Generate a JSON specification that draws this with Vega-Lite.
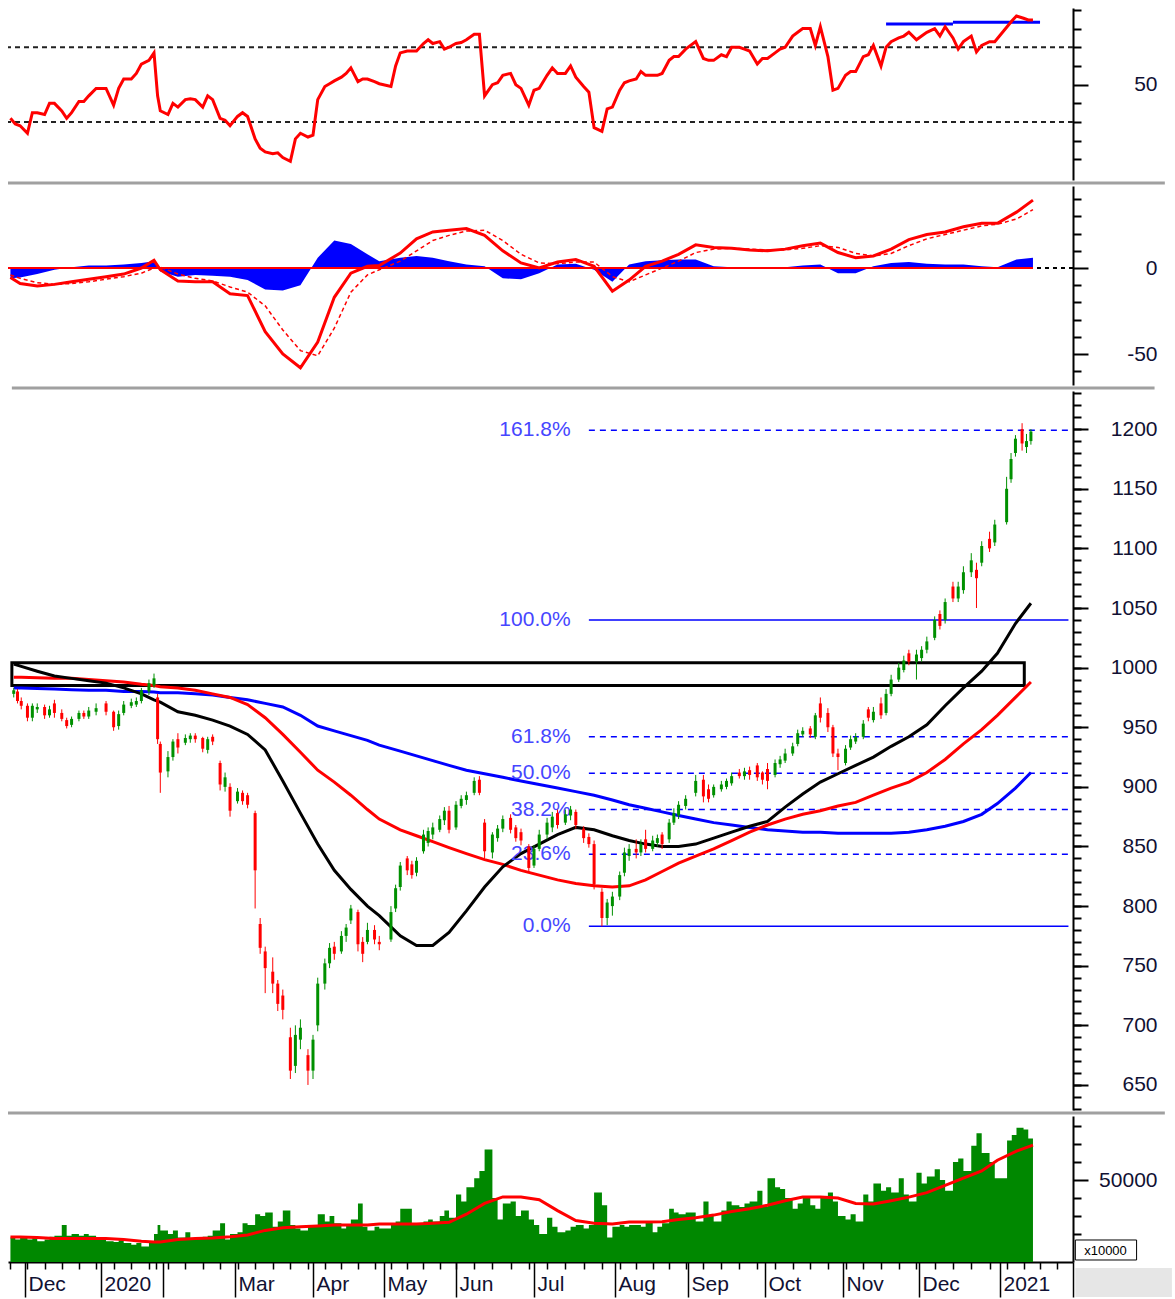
{
"$schema":"https://vega.github.io/schema/vega-lite/v6.json",
"background":"white",
"padding":{"left":4,"top":8,"right":0,"bottom":0},
"autosize":{"type":"pad"},
"bounds":"flush",
"spacing":6,
"config":{"view":{"stroke":null},"axis":{"grid":false,"labelFont":"Liberation Sans","labelFontSize":21,"labelColor":"#111133","tickColor":"#000000","domainColor":"#000000","tickWidth":2,"domainWidth":2,"titleFont":"Liberation Sans"}},
"datasets":{
"p":[
{"d":"2019-11-25","o":978,"h":983,"l":975,"c":981,"v":18000,"r":32},
{"d":"2019-11-27","o":980,"h":982,"l":970,"c":972,"v":17000,"r":29},
{"d":"2019-11-29","o":972,"h":975,"l":965,"c":968,"v":18500,"r":28},
{"d":"2019-12-02","o":968,"h":970,"l":955,"c":958,"v":17000,"r":24},
{"d":"2019-12-04","o":958,"h":970,"l":955,"c":968,"v":18000,"r":35},
{"d":"2019-12-06","o":965,"h":970,"l":962,"c":967,"v":16000,"r":35},
{"d":"2019-12-09","o":967,"h":969,"l":957,"c":960,"v":17000,"r":34},
{"d":"2019-12-11","o":960,"h":968,"l":958,"c":965,"v":18500,"r":40},
{"d":"2019-12-13","o":970,"h":973,"l":958,"c":962,"v":19000,"r":40},
{"d":"2019-12-16","o":962,"h":965,"l":955,"c":957,"v":25000,"r":36},
{"d":"2019-12-18","o":956,"h":958,"l":949,"c":951,"v":19000,"r":32},
{"d":"2019-12-20","o":952,"h":959,"l":950,"c":957,"v":20000,"r":35},
{"d":"2019-12-23","o":957,"h":964,"l":955,"c":962,"v":19000,"r":41},
{"d":"2019-12-25","o":962,"h":964,"l":957,"c":959,"v":20000,"r":41},
{"d":"2019-12-27","o":959,"h":967,"l":957,"c":964,"v":19000,"r":44},
{"d":"2019-12-30","o":963,"h":970,"l":960,"c":966,"v":17000,"r":48},
{"d":"2020-01-03","o":970,"h":972,"l":960,"c":963,"v":16000,"r":48},
{"d":"2020-01-06","o":963,"h":964,"l":947,"c":950,"v":15500,"r":39},
{"d":"2020-01-08","o":951,"h":964,"l":948,"c":961,"v":16500,"r":48},
{"d":"2020-01-10","o":962,"h":972,"l":960,"c":969,"v":15000,"r":53},
{"d":"2020-01-13","o":968,"h":974,"l":966,"c":971,"v":14000,"r":53},
{"d":"2020-01-15","o":969,"h":975,"l":967,"c":972,"v":15000,"r":56},
{"d":"2020-01-17","o":972,"h":983,"l":970,"c":981,"v":13000,"r":61},
{"d":"2020-01-20","o":980,"h":990,"l":977,"c":987,"v":15000,"r":63},
{"d":"2020-01-22","o":985,"h":995,"l":983,"c":991,"v":20000,"r":67},
{"d":"2020-01-30","o":975,"h":978,"l":936,"c":940,"v":25000,"r":44},
{"d":"2020-01-31","o":936,"h":938,"l":895,"c":912,"v":22000,"r":36},
{"d":"2020-02-03","o":913,"h":930,"l":908,"c":925,"v":20000,"r":34},
{"d":"2020-02-05","o":925,"h":940,"l":922,"c":938,"v":22000,"r":40},
{"d":"2020-02-07","o":940,"h":945,"l":928,"c":933,"v":18000,"r":38},
{"d":"2020-02-10","o":937,"h":944,"l":935,"c":941,"v":21000,"r":42},
{"d":"2020-02-12","o":940,"h":945,"l":937,"c":943,"v":17500,"r":42.5},
{"d":"2020-02-14","o":943,"h":945,"l":937,"c":940,"v":18000,"r":42},
{"d":"2020-02-17","o":941,"h":942,"l":929,"c":932,"v":18500,"r":38},
{"d":"2020-02-19","o":931,"h":942,"l":928,"c":940,"v":19000,"r":44},
{"d":"2020-02-21","o":942,"h":944,"l":935,"c":938,"v":22000,"r":42},
{"d":"2020-02-24","o":920,"h":922,"l":897,"c":902,"v":26000,"r":32},
{"d":"2020-02-26","o":900,"h":912,"l":896,"c":908,"v":17000,"r":31},
{"d":"2020-02-28","o":900,"h":903,"l":875,"c":880,"v":20000,"r":28},
{"d":"2020-03-02","o":888,"h":899,"l":886,"c":896,"v":21000,"r":33},
{"d":"2020-03-04","o":895,"h":897,"l":885,"c":888,"v":26000,"r":35},
{"d":"2020-03-06","o":893,"h":895,"l":882,"c":885,"v":25000,"r":33},
{"d":"2020-03-09","o":878,"h":880,"l":798,"c":830,"v":31000,"r":21},
{"d":"2020-03-11","o":785,"h":790,"l":760,"c":765,"v":30000,"r":16},
{"d":"2020-03-13","o":762,"h":766,"l":727,"c":748,"v":32000,"r":14},
{"d":"2020-03-16","o":745,"h":757,"l":727,"c":735,"v":24000,"r":13},
{"d":"2020-03-18","o":735,"h":738,"l":712,"c":718,"v":27000,"r":13.5},
{"d":"2020-03-20","o":725,"h":730,"l":705,"c":713,"v":33000,"r":11},
{"d":"2020-03-23","o":690,"h":698,"l":655,"c":662,"v":25000,"r":9},
{"d":"2020-03-25","o":666,"h":700,"l":660,"c":692,"v":23000,"r":21},
{"d":"2020-03-27","o":688,"h":705,"l":680,"c":698,"v":22000,"r":24},
{"d":"2020-03-30","o":675,"h":680,"l":650,"c":662,"v":25000,"r":22},
{"d":"2020-04-01","o":662,"h":692,"l":655,"c":688,"v":24000,"r":23},
{"d":"2020-04-03","o":700,"h":740,"l":695,"c":735,"v":31000,"r":42},
{"d":"2020-04-06","o":735,"h":756,"l":730,"c":752,"v":27000,"r":49},
{"d":"2020-04-08","o":752,"h":769,"l":748,"c":765,"v":30000,"r":50.5},
{"d":"2020-04-10","o":766,"h":770,"l":755,"c":760,"v":26000,"r":52},
{"d":"2020-04-13","o":762,"h":779,"l":760,"c":775,"v":23000,"r":54},
{"d":"2020-04-15","o":775,"h":785,"l":770,"c":782,"v":25000,"r":56},
{"d":"2020-04-17","o":788,"h":801,"l":785,"c":798,"v":28000,"r":59},
{"d":"2020-04-20","o":795,"h":797,"l":762,"c":768,"v":37000,"r":51.6},
{"d":"2020-04-22","o":770,"h":774,"l":753,"c":760,"v":24000,"r":53},
{"d":"2020-04-24","o":770,"h":786,"l":768,"c":780,"v":22000,"r":53},
{"d":"2020-04-27","o":780,"h":784,"l":768,"c":772,"v":24000,"r":51.6},
{"d":"2020-04-29","o":770,"h":775,"l":763,"c":768,"v":23000,"r":50.5},
{"d":"2020-05-04","o":772,"h":800,"l":770,"c":795,"v":25000,"r":49},
{"d":"2020-05-06","o":798,"h":818,"l":795,"c":815,"v":27000,"r":60},
{"d":"2020-05-08","o":816,"h":837,"l":813,"c":834,"v":34000,"r":67},
{"d":"2020-05-11","o":840,"h":842,"l":826,"c":830,"v":34000,"r":68},
{"d":"2020-05-13","o":835,"h":838,"l":823,"c":826,"v":26000,"r":68},
{"d":"2020-05-15","o":828,"h":841,"l":825,"c":838,"v":25000,"r":68},
{"d":"2020-05-18","o":846,"h":864,"l":844,"c":860,"v":27000,"r":72},
{"d":"2020-05-20","o":853,"h":866,"l":850,"c":863,"v":28000,"r":74},
{"d":"2020-05-22","o":860,"h":870,"l":856,"c":866,"v":27000,"r":72},
{"d":"2020-05-25","o":864,"h":876,"l":862,"c":873,"v":30000,"r":73},
{"d":"2020-05-27","o":872,"h":883,"l":868,"c":880,"v":33000,"r":69},
{"d":"2020-05-29","o":880,"h":884,"l":861,"c":864,"v":29000,"r":70},
{"d":"2020-06-01","o":866,"h":888,"l":864,"c":885,"v":42000,"r":72},
{"d":"2020-06-03","o":884,"h":893,"l":882,"c":890,"v":38000,"r":72.5},
{"d":"2020-06-05","o":889,"h":896,"l":885,"c":893,"v":46000,"r":74},
{"d":"2020-06-08","o":895,"h":908,"l":893,"c":905,"v":51000,"r":77},
{"d":"2020-06-10","o":906,"h":909,"l":893,"c":895,"v":55000,"r":77},
{"d":"2020-06-12","o":870,"h":873,"l":840,"c":846,"v":67000,"r":44},
{"d":"2020-06-15","o":845,"h":862,"l":840,"c":860,"v":40000,"r":50},
{"d":"2020-06-17","o":857,"h":868,"l":854,"c":865,"v":28000,"r":51},
{"d":"2020-06-19","o":865,"h":876,"l":862,"c":873,"v":37000,"r":55},
{"d":"2020-06-22","o":874,"h":877,"l":861,"c":864,"v":38000,"r":56},
{"d":"2020-06-24","o":866,"h":868,"l":854,"c":857,"v":30000,"r":50},
{"d":"2020-06-26","o":862,"h":865,"l":851,"c":855,"v":33000,"r":48},
{"d":"2020-06-29","o":850,"h":852,"l":828,"c":832,"v":28000,"r":39},
{"d":"2020-07-01","o":834,"h":851,"l":832,"c":848,"v":25000,"r":47},
{"d":"2020-07-03","o":848,"h":864,"l":846,"c":860,"v":20000,"r":48},
{"d":"2020-07-06","o":860,"h":874,"l":856,"c":870,"v":29000,"r":55},
{"d":"2020-07-08","o":866,"h":879,"l":862,"c":875,"v":24000,"r":59},
{"d":"2020-07-10","o":878,"h":881,"l":865,"c":868,"v":21000,"r":56},
{"d":"2020-07-13","o":870,"h":881,"l":868,"c":877,"v":22000,"r":56},
{"d":"2020-07-15","o":876,"h":884,"l":872,"c":881,"v":24000,"r":60},
{"d":"2020-07-17","o":879,"h":881,"l":865,"c":868,"v":25000,"r":54},
{"d":"2020-07-20","o":865,"h":867,"l":853,"c":857,"v":23000,"r":49},
{"d":"2020-07-22","o":858,"h":861,"l":849,"c":852,"v":25000,"r":46},
{"d":"2020-07-24","o":852,"h":855,"l":814,"c":818,"v":43000,"r":27},
{"d":"2020-07-27","o":812,"h":815,"l":783,"c":790,"v":36000,"r":25},
{"d":"2020-07-29","o":790,"h":806,"l":784,"c":803,"v":18000,"r":37},
{"d":"2020-07-31","o":800,"h":812,"l":792,"c":808,"v":24000,"r":38},
{"d":"2020-08-03","o":808,"h":829,"l":805,"c":826,"v":25000,"r":47},
{"d":"2020-08-05","o":828,"h":849,"l":825,"c":845,"v":24000,"r":51},
{"d":"2020-08-07","o":842,"h":852,"l":838,"c":848,"v":25000,"r":52},
{"d":"2020-08-10","o":848,"h":856,"l":840,"c":845,"v":25000,"r":53},
{"d":"2020-08-12","o":845,"h":856,"l":842,"c":852,"v":24000,"r":57},
{"d":"2020-08-14","o":856,"h":864,"l":845,"c":848,"v":27000,"r":55},
{"d":"2020-08-17","o":848,"h":859,"l":846,"c":855,"v":21000,"r":55},
{"d":"2020-08-19","o":853,"h":860,"l":850,"c":857,"v":24000,"r":55},
{"d":"2020-08-21","o":860,"h":862,"l":848,"c":852,"v":26000,"r":56},
{"d":"2020-08-24","o":856,"h":873,"l":853,"c":870,"v":34000,"r":63},
{"d":"2020-08-26","o":870,"h":882,"l":868,"c":878,"v":32000,"r":65},
{"d":"2020-08-28","o":876,"h":888,"l":873,"c":885,"v":31000,"r":65},
{"d":"2020-08-31","o":884,"h":893,"l":881,"c":890,"v":32000,"r":69},
{"d":"2020-09-04","o":895,"h":910,"l":892,"c":905,"v":27000,"r":73},
{"d":"2020-09-07","o":906,"h":910,"l":887,"c":892,"v":38000,"r":64},
{"d":"2020-09-09","o":898,"h":902,"l":887,"c":890,"v":30000,"r":63},
{"d":"2020-09-11","o":893,"h":902,"l":891,"c":900,"v":27000,"r":63},
{"d":"2020-09-14","o":898,"h":905,"l":896,"c":902,"v":33000,"r":66},
{"d":"2020-09-16","o":900,"h":907,"l":898,"c":905,"v":38000,"r":65},
{"d":"2020-09-18","o":903,"h":912,"l":901,"c":909,"v":36000,"r":70},
{"d":"2020-09-21","o":912,"h":915,"l":907,"c":909,"v":35000,"r":70},
{"d":"2020-09-23","o":909,"h":916,"l":906,"c":913,"v":37000,"r":69},
{"d":"2020-09-25","o":914,"h":917,"l":906,"c":910,"v":38000,"r":68},
{"d":"2020-09-28","o":918,"h":920,"l":905,"c":908,"v":44000,"r":61},
{"d":"2020-09-30","o":912,"h":913,"l":902,"c":906,"v":35000,"r":64},
{"d":"2020-10-02","o":915,"h":920,"l":898,"c":905,"v":51000,"r":64},
{"d":"2020-10-05","o":910,"h":923,"l":908,"c":920,"v":46000,"r":67},
{"d":"2020-10-07","o":919,"h":926,"l":916,"c":923,"v":45000,"r":69},
{"d":"2020-10-09","o":922,"h":932,"l":920,"c":928,"v":40000,"r":70},
{"d":"2020-10-12","o":928,"h":937,"l":926,"c":934,"v":34000,"r":76},
{"d":"2020-10-14","o":936,"h":948,"l":934,"c":945,"v":37000,"r":78},
{"d":"2020-10-16","o":944,"h":950,"l":942,"c":947,"v":40000,"r":80},
{"d":"2020-10-19","o":949,"h":951,"l":941,"c":944,"v":36000,"r":80},
{"d":"2020-10-21","o":942,"h":962,"l":940,"c":960,"v":34000,"r":71},
{"d":"2020-10-23","o":970,"h":975,"l":954,"c":958,"v":40000,"r":81},
{"d":"2020-10-26","o":962,"h":966,"l":946,"c":950,"v":43000,"r":65},
{"d":"2020-10-28","o":950,"h":952,"l":925,"c":928,"v":38000,"r":47},
{"d":"2020-10-30","o":928,"h":932,"l":914,"c":925,"v":30000,"r":48},
{"d":"2020-11-02","o":920,"h":935,"l":918,"c":932,"v":28000,"r":55},
{"d":"2020-11-04","o":933,"h":943,"l":931,"c":940,"v":31000,"r":57},
{"d":"2020-11-06","o":938,"h":945,"l":936,"c":942,"v":27000,"r":57},
{"d":"2020-11-09","o":942,"h":956,"l":940,"c":953,"v":42000,"r":65},
{"d":"2020-11-11","o":965,"h":967,"l":955,"c":958,"v":38000,"r":66},
{"d":"2020-11-13","o":956,"h":967,"l":954,"c":963,"v":48000,"r":71},
{"d":"2020-11-16","o":970,"h":975,"l":957,"c":960,"v":44000,"r":60},
{"d":"2020-11-18","o":962,"h":982,"l":960,"c":978,"v":46000,"r":70},
{"d":"2020-11-20","o":978,"h":994,"l":976,"c":990,"v":43000,"r":73},
{"d":"2020-11-23","o":990,"h":1004,"l":988,"c":1000,"v":51000,"r":75},
{"d":"2020-11-25","o":998,"h":1010,"l":996,"c":1006,"v":42000,"r":76},
{"d":"2020-11-27","o":1012,"h":1015,"l":1002,"c":1005,"v":38000,"r":78},
{"d":"2020-11-30","o":1005,"h":1015,"l":990,"c":1011,"v":54000,"r":74},
{"d":"2020-12-02","o":1008,"h":1018,"l":1005,"c":1015,"v":48000,"r":76},
{"d":"2020-12-04","o":1015,"h":1026,"l":1012,"c":1022,"v":52000,"r":78},
{"d":"2020-12-07","o":1025,"h":1043,"l":1023,"c":1040,"v":56000,"r":80},
{"d":"2020-12-09","o":1045,"h":1048,"l":1032,"c":1035,"v":50000,"r":76},
{"d":"2020-12-11","o":1040,"h":1058,"l":1037,"c":1055,"v":44000,"r":81},
{"d":"2020-12-14","o":1068,"h":1072,"l":1055,"c":1058,"v":60000,"r":75},
{"d":"2020-12-16","o":1058,"h":1072,"l":1055,"c":1068,"v":62000,"r":69},
{"d":"2020-12-18","o":1065,"h":1085,"l":1062,"c":1080,"v":55000,"r":73},
{"d":"2020-12-21","o":1080,"h":1096,"l":1076,"c":1090,"v":69000,"r":76},
{"d":"2020-12-23","o":1082,"h":1088,"l":1050,"c":1075,"v":76000,"r":67.5},
{"d":"2020-12-25","o":1088,"h":1106,"l":1085,"c":1102,"v":65000,"r":71},
{"d":"2020-12-28","o":1108,"h":1114,"l":1097,"c":1100,"v":60000,"r":73},
{"d":"2020-12-30","o":1105,"h":1124,"l":1102,"c":1120,"v":51000,"r":73},
{"d":"2021-01-04","o":1122,"h":1160,"l":1120,"c":1150,"v":72000,"r":81},
{"d":"2021-01-06","o":1158,"h":1180,"l":1155,"c":1175,"v":75000,"r":84},
{"d":"2021-01-08","o":1180,"h":1195,"l":1177,"c":1192,"v":79000,"r":86.7},
{"d":"2021-01-11","o":1200,"h":1205,"l":1182,"c":1188,"v":78000,"r":85.5},
{"d":"2021-01-13","o":1185,"h":1196,"l":1180,"c":1190,"v":73000,"r":84.6},
{"d":"2021-01-15","o":1190,"h":1200,"l":1187,"c":1198,"v":73000,"r":84.6}
],
"w":[
{"d":"2019-11-25","k":1003,"r2":992,"b":983,"mc":-5.5,"sg":-4,"hs":-6,"vm":18300},
{"d":"2019-11-29","k":1001,"r2":992,"b":983,"mc":-9,"sg":-6,"hs":-5.5,"vm":18300},
{"d":"2019-12-06","k":997,"r2":991.5,"b":982.5,"mc":-10.5,"sg":-8.5,"hs":-3.5,"vm":18000},
{"d":"2019-12-13","k":993,"r2":991,"b":982,"mc":-9.5,"sg":-9.5,"hs":-1,"vm":17500},
{"d":"2019-12-20","k":991,"r2":991,"b":981.5,"mc":-8,"sg":-9,"hs":0.5,"vm":17500},
{"d":"2019-12-27","k":989,"r2":990,"b":981,"mc":-6.5,"sg":-8,"hs":1.5,"vm":17500},
{"d":"2020-01-03","k":987,"r2":989,"b":981,"mc":-5,"sg":-6.5,"hs":1.5,"vm":17500},
{"d":"2020-01-10","k":983,"r2":988,"b":980,"mc":-3.5,"sg":-5,"hs":2,"vm":17000},
{"d":"2020-01-17","k":978,"r2":986,"b":980,"mc":0,"sg":-3,"hs":3,"vm":16000},
{"d":"2020-01-22","k":973,"r2":985,"b":979.5,"mc":4.5,"sg":0,"hs":4,"vm":15600},
{"d":"2020-01-31","k":971,"r2":984,"b":979,"mc":-1,"sg":0.5,"hs":-2,"vm":15600},
{"d":"2020-02-07","k":963,"r2":983,"b":979,"mc":-7.5,"sg":-3.5,"hs":-5,"vm":17000},
{"d":"2020-02-14","k":960,"r2":981,"b":978,"mc":-8,"sg":-6,"hs":-4,"vm":17500},
{"d":"2020-02-21","k":956,"r2":978,"b":977,"mc":-8,"sg":-7.5,"hs":-4.5,"vm":17800},
{"d":"2020-02-28","k":951,"r2":975,"b":975,"mc":-15,"sg":-11,"hs":-5,"vm":18500},
{"d":"2020-03-06","k":944,"r2":969,"b":973,"mc":-16,"sg":-14,"hs":-7,"vm":19500},
{"d":"2020-03-13","k":931,"r2":958,"b":970,"mc":-37,"sg":-22,"hs":-12.5,"vm":22000},
{"d":"2020-03-20","k":905,"r2":944,"b":967,"mc":-50,"sg":-36,"hs":-13,"vm":23500},
{"d":"2020-03-27","k":878,"r2":929,"b":960,"mc":-58,"sg":-48,"hs":-10,"vm":24000},
{"d":"2020-04-03","k":852,"r2":914,"b":951,"mc":-43,"sg":-51,"hs":6,"vm":24500},
{"d":"2020-04-10","k":830,"r2":904,"b":947,"mc":-17,"sg":-35,"hs":16,"vm":25000},
{"d":"2020-04-17","k":814,"r2":893,"b":943,"mc":-3,"sg":-14,"hs":14,"vm":25000},
{"d":"2020-04-24","k":800,"r2":881,"b":939,"mc":1,"sg":-4,"hs":8,"vm":25000},
{"d":"2020-04-29","k":792,"r2":873,"b":935,"mc":1.5,"sg":-1,"hs":4,"vm":25500},
{"d":"2020-05-08","k":775,"r2":864,"b":930,"mc":8.7,"sg":4,"hs":6,"vm":25500},
{"d":"2020-05-15","k":767,"r2":859,"b":926,"mc":17,"sg":10,"hs":7,"vm":25500},
{"d":"2020-05-22","k":767,"r2":854,"b":922,"mc":21,"sg":16,"hs":6,"vm":26000},
{"d":"2020-05-29","k":778,"r2":849,"b":918,"mc":22,"sg":19,"hs":4,"vm":26500},
{"d":"2020-06-05","k":796,"r2":844,"b":914,"mc":23,"sg":21.5,"hs":2,"vm":31000},
{"d":"2020-06-12","k":816,"r2":839,"b":911,"mc":19,"sg":22,"hs":1,"vm":37000},
{"d":"2020-06-19","k":833,"r2":835,"b":908,"mc":10,"sg":16,"hs":-6,"vm":40600},
{"d":"2020-06-26","k":844,"r2":830,"b":905,"mc":3,"sg":8,"hs":-6.5,"vm":40600},
{"d":"2020-07-03","k":852,"r2":826,"b":902,"mc":0,"sg":3,"hs":-3,"vm":39000},
{"d":"2020-07-10","k":860,"r2":822,"b":899,"mc":3.5,"sg":2.5,"hs":2,"vm":33000},
{"d":"2020-07-17","k":866,"r2":819,"b":896,"mc":5,"sg":3.5,"hs":2.5,"vm":27500},
{"d":"2020-07-24","k":864,"r2":817,"b":893,"mc":1,"sg":3.5,"hs":-1,"vm":26000},
{"d":"2020-07-31","k":859,"r2":816,"b":889,"mc":-13.5,"sg":-5,"hs":-8,"vm":25500},
{"d":"2020-08-07","k":855,"r2":817,"b":885,"mc":-7,"sg":-8,"hs":2,"vm":26600},
{"d":"2020-08-14","k":852,"r2":822,"b":882,"mc":1,"sg":-4,"hs":4,"vm":26600},
{"d":"2020-08-21","k":850,"r2":829,"b":879,"mc":4,"sg":0,"hs":4.5,"vm":26800},
{"d":"2020-08-28","k":850,"r2":836,"b":876,"mc":8,"sg":4,"hs":5,"vm":28000},
{"d":"2020-09-04","k":852,"r2":842,"b":873,"mc":13.5,"sg":9,"hs":5,"vm":29000},
{"d":"2020-09-11","k":857,"r2":848,"b":870,"mc":12,"sg":11,"hs":1,"vm":30500},
{"d":"2020-09-18","k":862,"r2":855,"b":868,"mc":11.5,"sg":11.5,"hs":0.5,"vm":32500},
{"d":"2020-09-25","k":867,"r2":862,"b":866,"mc":10.5,"sg":11,"hs":0,"vm":34000},
{"d":"2020-10-02","k":871,"r2":868,"b":864,"mc":10,"sg":10.5,"hs":-0.5,"vm":36000},
{"d":"2020-10-09","k":883,"r2":873,"b":863,"mc":11,"sg":10.5,"hs":0.5,"vm":38500},
{"d":"2020-10-16","k":894,"r2":877,"b":862,"mc":13,"sg":11.5,"hs":1.5,"vm":40600},
{"d":"2020-10-23","k":904,"r2":880,"b":862,"mc":14.5,"sg":13,"hs":2,"vm":40600},
{"d":"2020-10-30","k":911,"r2":884,"b":861,"mc":9,"sg":12,"hs":-3,"vm":40000},
{"d":"2020-11-06","k":918,"r2":887,"b":861,"mc":6,"sg":8.5,"hs":-3,"vm":37000},
{"d":"2020-11-13","k":925,"r2":893,"b":861,"mc":7,"sg":7,"hs":1,"vm":36700},
{"d":"2020-11-20","k":934,"r2":899,"b":861,"mc":11,"sg":8.5,"hs":3,"vm":38500},
{"d":"2020-11-27","k":942,"r2":904,"b":862,"mc":16.5,"sg":13,"hs":3.5,"vm":40500},
{"d":"2020-12-04","k":952,"r2":912,"b":864,"mc":19.5,"sg":17,"hs":2.5,"vm":43000},
{"d":"2020-12-11","k":968,"r2":923,"b":867,"mc":21,"sg":19.5,"hs":2,"vm":47000},
{"d":"2020-12-18","k":983,"r2":936,"b":871,"mc":24,"sg":22,"hs":2,"vm":51000},
{"d":"2020-12-25","k":997,"r2":948,"b":877,"mc":26,"sg":24.5,"hs":1,"vm":55000},
{"d":"2020-12-31","k":1012,"r2":960,"b":886,"mc":26,"sg":25.5,"hs":0.5,"vm":61000},
{"d":"2021-01-08","k":1037,"r2":975,"b":899,"mc":32.5,"sg":28.5,"hs":5,"vm":66000},
{"d":"2021-01-15","k":1054,"r2":988,"b":912,"mc":39.5,"sg":34,"hs":6,"vm":69400}
],
"fib":[
{"t":"161.8%","v":1199,"s":"dash"},
{"t":"100.0%","v":1040,"s":"solid"},
{"t":"61.8%","v":942,"s":"dash"},
{"t":"50.0%","v":911.5,"s":"dash"},
{"t":"38.2%","v":881,"s":"dash"},
{"t":"23.6%","v":843.5,"s":"dash"},
{"t":"0.0%","v":783,"s":"solid"}
]
},
"vconcat":[
{
"width":1065,"height":172,
"resolve":{"axis":{"y":"independent"}},
"layer":[
{"data":{"values":[{"v":70},{"v":30}]},"mark":{"type":"rule","color":"#222222","strokeWidth":2,"strokeDash":[5,4]},
"encoding":{"y":{"field":"v","type":"quantitative","scale":{"domain":[-1,91],"zero":false,"nice":false},"axis":{"orient":"right","values":[10,20,30,40,60,70,80,90],"labels":false,"tickSize":8,"title":null}}}},
{"data":{"values":[{"a":"2020-11-18","b":"2020-12-14","v":82.5},{"a":"2020-12-14","b":"2021-01-18","v":83.4}],"format":{"parse":{"a":"date","b":"date"}}},"mark":{"type":"rule","color":"#0000ff","strokeWidth":3},
"encoding":{"x":{"field":"a","type":"quantitative","axis":null,"scale":{"domain":[1574553600000,1575158400000,1577836800000,1579651200000,1580342400000,1580515200000,1583020800000,1585699200000,1588291200000,1590969600000,1593561600000,1596240000000,1598918400000,1601510400000,1604188800000,1606780800000,1609459200000,1612137600000],"range":[0,17,93,146,149.6,155,227,305,376,448,526,607,680,757,835,911,992,1065],"nice":false,"zero":false}},"x2":{"field":"b"},
"y":{"field":"v","type":"quantitative","axis":{"orient":"right","values":[50],"tickSize":15,"labelPadding":69,"labelAlign":"right","labelBaseline":"middle","labelExpr":"'' + datum.value","domain":false,"title":null}}}},
{"data":{"name":"p","format":{"parse":{"d":"date"}}},"mark":{"type":"line","color":"#ff0000","strokeWidth":3},
"encoding":{"x":{"field":"d","type":"quantitative","axis":null},"y":{"field":"r","type":"quantitative","axis":null}}}
]
},
{
"width":1065,"height":199,
"resolve":{"axis":{"y":"independent"}},
"layer":[
{"data":{"name":"w","format":{"parse":{"d":"date"}}},"mark":{"type":"area","color":"#0000ff","opacity":1},
"encoding":{"x":{"field":"d","type":"quantitative","axis":null,"scale":{"domain":[1574553600000,1575158400000,1577836800000,1579651200000,1580342400000,1580515200000,1583020800000,1585699200000,1588291200000,1590969600000,1593561600000,1596240000000,1598918400000,1601510400000,1604188800000,1606780800000,1609459200000,1612137600000],"range":[0,17,93,146,149.6,155,227,305,376,448,526,607,680,757,835,911,992,1065],"nice":false,"zero":false}},
"y":{"field":"hs","type":"quantitative","scale":{"domain":[-68,47.7],"zero":false,"nice":false},"axis":{"orient":"right","values":[-60,-40,-30,-20,-10,10,20,30,40],"labels":false,"tickSize":8,"title":null}},"y2":{"datum":0}}},
{"data":{"values":[{"v":0}]},"mark":{"type":"rule","color":"#000000","strokeWidth":2,"strokeDash":[4,4]},
"encoding":{"y":{"field":"v","type":"quantitative","axis":null}}},
{"data":{"values":[{}]},"mark":{"type":"rule","color":"#ff0000","strokeWidth":2},
"encoding":{"x":{"datum":1574553600000,"type":"quantitative","axis":null},"x2":{"datum":1610668800000},"y":{"datum":0,"type":"quantitative","axis":null}}},
{"data":{"values":[{}]},"mark":{"type":"rule","color":"#a0a0a0","strokeWidth":3,"yOffset":-3},
"encoding":{"x":{"datum":1574553600000,"type":"quantitative","axis":null},"x2":{"datum":1615507200000},"y":{"datum":47.7,"type":"quantitative","axis":null}}},
{"data":{"name":"w","format":{"parse":{"d":"date"}}},"mark":{"type":"line","color":"#ff0000","strokeWidth":1.5,"strokeDash":[4,3]},
"encoding":{"x":{"field":"d","type":"quantitative","axis":null},"y":{"field":"sg","type":"quantitative","axis":null}}},
{"data":{"name":"w","format":{"parse":{"d":"date"}}},"mark":{"type":"line","color":"#ff0000","strokeWidth":3},
"encoding":{"x":{"field":"d","type":"quantitative","axis":null},"y":{"field":"mc","type":"quantitative","axis":{"orient":"right","values":[0,-50],"tickSize":15,"labelPadding":69,"labelAlign":"right","labelBaseline":"middle","labelExpr":"'' + datum.value","domain":false,"title":null}}}}
]
},
{
"width":1065,"height":719,
"resolve":{"axis":{"y":"independent"}},
"layer":[
{"data":{"values":[{}]},"mark":{"type":"rule","color":"#a0a0a0","strokeWidth":3,"yOffset":-3},
"encoding":{"x":{"datum":1574553600000,"type":"quantitative","axis":null,"scale":{"domain":[1574553600000,1575158400000,1577836800000,1579651200000,1580342400000,1580515200000,1583020800000,1585699200000,1588291200000,1590969600000,1593561600000,1596240000000,1598918400000,1601510400000,1604188800000,1606780800000,1609459200000,1612137600000],"range":[0,17,93,146,149.6,155,227,305,376,448,526,607,680,757,835,911,992,1065],"nice":false,"zero":false}},"x2":{"datum":1615507200000},"y":{"datum":1232,"type":"quantitative","scale":{"domain":[629,1232],"zero":false,"nice":false},"axis":null}}},
{"data":{"name":"fib"},"mark":{"type":"rule","color":"#0000ff","strokeWidth":1.5},
"encoding":{"x":{"datum":1595376000000,"type":"quantitative","axis":null},"x2":{"datum":1612137600000},"y":{"field":"v","type":"quantitative","axis":{"orient":"right","values":[630,640,650,660,670,680,690,700,710,720,730,740,750,760,770,780,790,800,810,820,830,840,850,860,870,880,890,900,910,920,930,940,950,960,970,980,990,1000,1010,1020,1030,1040,1050,1060,1070,1080,1090,1100,1110,1120,1130,1140,1150,1160,1170,1180,1190,1200,1210,1220,1230],"labels":false,"tickSize":8,"title":null}},
"strokeDash":{"field":"s","type":"nominal","scale":{"domain":["dash","solid"],"range":[[6,5],[1,0]]},"legend":null}}},
{"data":{"values":[{}]},"mark":{"type":"rect","filled":false,"stroke":"#000000","strokeWidth":3},
"encoding":{"x":{"datum":1574553600000,"type":"quantitative","axis":null},"x2":{"datum":1610409600000},"y":{"datum":985,"type":"quantitative","axis":null},"y2":{"datum":1004}}},
{"data":{"name":"w","format":{"parse":{"d":"date"}}},"mark":{"type":"line","color":"#0000ff","strokeWidth":3},
"encoding":{"x":{"field":"d","type":"quantitative","axis":null},"y":{"field":"b","type":"quantitative","axis":null}}},
{"data":{"name":"w","format":{"parse":{"d":"date"}}},"mark":{"type":"line","color":"#ff0000","strokeWidth":3},
"encoding":{"x":{"field":"d","type":"quantitative","axis":null},"y":{"field":"r2","type":"quantitative","axis":null}}},
{"data":{"name":"w","format":{"parse":{"d":"date"}}},"mark":{"type":"line","color":"#000000","strokeWidth":3},
"encoding":{"x":{"field":"d","type":"quantitative","axis":null},"y":{"field":"k","type":"quantitative","axis":null}}},
{"data":{"name":"fib"},"mark":{"type":"text","align":"right","baseline":"middle","fontSize":21,"font":"Liberation Sans","color":"#4646ff"},
"encoding":{"x":{"datum":1594771200000,"type":"quantitative","axis":null},"y":{"field":"v","type":"quantitative","axis":null},"text":{"field":"t"}}},
{"data":{"name":"p","format":{"parse":{"d":"date"}}},"mark":{"type":"rule","strokeWidth":1},
"encoding":{"x":{"field":"d","type":"quantitative","axis":null},"y":{"field":"l","type":"quantitative","axis":null},"y2":{"field":"h"},
"color":{"condition":{"test":"datum.c >= datum.o","value":"#009000"},"value":"#ff0000"}}},
{"data":{"name":"p","format":{"parse":{"d":"date"}}},"mark":{"type":"bar","size":3},
"encoding":{"x":{"field":"d","type":"quantitative","axis":null},"y":{"field":"o","type":"quantitative","axis":{"orient":"right","values":[650,700,750,800,850,900,950,1000,1050,1100,1150,1200],"tickSize":15,"labelPadding":69,"labelAlign":"right","labelBaseline":"middle","labelExpr":"'' + datum.value","domain":false,"title":null}},"y2":{"field":"c"},
"color":{"condition":{"test":"datum.c >= datum.o","value":"#009000"},"value":"#ff0000"}}}
]
},
{
"width":1065,"height":146,
"resolve":{"axis":{"y":"independent","x":"independent"}},
"layer":[
{"data":{"values":[{}]},"mark":{"type":"rule","color":"#a0a0a0","strokeWidth":3,"yOffset":-3},
"encoding":{"x":{"datum":1574553600000,"type":"quantitative","axis":null,"scale":{"domain":[1574553600000,1575158400000,1577836800000,1579651200000,1580342400000,1580515200000,1583020800000,1585699200000,1588291200000,1590969600000,1593561600000,1596240000000,1598918400000,1601510400000,1604188800000,1606780800000,1609459200000,1612137600000],"range":[0,17,93,146,149.6,155,227,305,376,448,526,607,680,757,835,911,992,1065],"nice":false,"zero":false}},"x2":{"datum":1615507200000},"y":{"datum":85556,"type":"quantitative","scale":{"domain":[4444,85556],"zero":false,"nice":false},"axis":null}}},
{"data":{"values":[{}]},"mark":{"type":"rect","color":"#e6e6e6"},
"encoding":{"x":{"datum":1612224000000,"type":"quantitative","axis":null},"x2":{"datum":1615766400000},"y":{"datum":1100,"type":"quantitative","axis":null},"y2":{"datum":-15000}}},
{"data":{"name":"p","format":{"parse":{"d":"date"}}},"mark":{"type":"area","interpolate":"step-after","color":"#008800","clip":true},
"encoding":{"x":{"field":"d","type":"quantitative","axis":{"orient":"bottom","values":[1574640000000,1575244800000,1575849600000,1576454400000,1577059200000,1577664000000,1578268800000,1578873600000,1579478400000,1580083200000,1580688000000,1581292800000,1581897600000,1582502400000,1583107200000,1583712000000,1584316800000,1584921600000,1585526400000,1586131200000,1586736000000,1587340800000,1587945600000,1588550400000,1589155200000,1589760000000,1590364800000,1590969600000,1591574400000,1592179200000,1592784000000,1593388800000,1593993600000,1594598400000,1595203200000,1595808000000,1596412800000,1597017600000,1597622400000,1598227200000,1598832000000,1599436800000,1600041600000,1600646400000,1601251200000,1601856000000,1602460800000,1603065600000,1603670400000,1604275200000,1604880000000,1605484800000,1606089600000,1606694400000,1607299200000,1607904000000,1608508800000,1609113600000,1609718400000,1610323200000,1610928000000,1611532800000],"labels":false,"tickSize":7,"tickWidth":1.5,"domain":true,"title":null}},"y":{"field":"v","type":"quantitative","axis":{"orient":"right","values":[20000,30000,40000,60000,70000,80000],"labels":false,"tickSize":8,"title":null}}}},
{"data":{"name":"w","format":{"parse":{"d":"date"}}},"mark":{"type":"line","color":"#ff0000","strokeWidth":3},
"encoding":{"x":{"field":"d","type":"quantitative","axis":{"orient":"bottom","values":[1575158400000,1577836800000,1580515200000,1583020800000,1585699200000,1588291200000,1590969600000,1593561600000,1596240000000,1598918400000,1601510400000,1604188800000,1606780800000,1609459200000,1612137600000],"tickSize":35,"tickWidth":1.5,"domain":false,"title":null,"labelAlign":"left","labelBaseline":"top","labelOffset":3,"labelPadding":-24,"labelFlush":false,"labelOverlap":false,"labelBound":false,"labelExpr":"utcFormat(datum.value,'%m')=='01' ? utcFormat(datum.value,'%Y') : (utcFormat(datum.value,'%m')=='02' ? '' : utcFormat(datum.value,'%b'))"}},
"y":{"field":"vm","type":"quantitative","axis":{"orient":"right","values":[50000],"tickSize":15,"labelPadding":69,"labelAlign":"right","labelBaseline":"middle","labelExpr":"'' + datum.value","domain":false,"title":"x10000","titleAngle":0,"titleX":32,"titleY":134,"titleAlign":"center","titleBaseline":"middle","titleFontSize":13,"titleFontWeight":"normal","titleColor":"#000000"}}}},
{"data":{"values":[{}]},"mark":{"type":"rect","filled":false,"stroke":"#000000","strokeWidth":1},
"encoding":{"x":{"datum":1612224000000,"type":"quantitative","axis":null},"x2":{"datum":1614470400000},"y":{"datum":16667,"type":"quantitative","axis":null},"y2":{"datum":5556}}}
]
}
]
}
